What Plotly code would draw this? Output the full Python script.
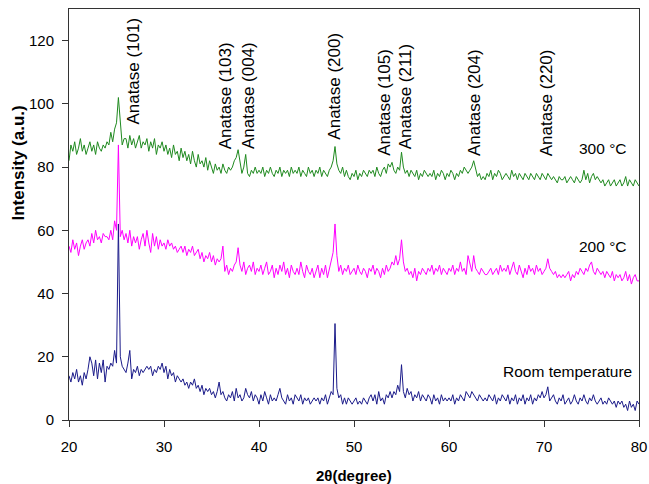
import numpy as np
import plotly.graph_objects as go

# 2-theta grid (degrees), 0.2 degree step
two_theta = np.round(np.arange(20.0, 80.0001, 0.2), 1)

room_temp = [
    14, 12, 15, 13, 16, 12, 14, 11, 15, 13,
    16, 20, 18, 14, 19, 13, 18, 15, 19, 12,
    17, 16, 18, 17, 22, 18, 62, 20, 17, 16,
    15, 18, 22, 13, 16, 15, 17, 14, 16, 15,
    16, 17, 16, 17, 14, 16, 15, 17, 16, 18,
    15, 17, 13, 16, 14, 15, 12, 14, 13, 12,
    13, 11, 12, 10, 12, 11, 13, 10, 11, 9,
    11, 8, 10, 9, 10, 8, 9, 7, 9, 12,
    8, 9, 7, 6, 8, 7, 9, 6, 10, 7,
    8, 6, 7, 10, 8, 7, 9, 6, 8, 7,
    5, 8, 6, 9, 7, 5, 8, 6, 7, 6,
    8, 10, 7, 6, 5, 8, 6, 7, 5, 8,
    7, 6, 8, 5, 7, 6, 7, 5, 6, 7,
    6, 7, 5, 7, 6, 8, 5, 7, 9, 8,
    30.5, 10, 7, 8, 5, 7, 5, 7, 6, 5,
    6, 7, 5, 6, 5, 7, 6, 5, 7, 8,
    6, 8, 5, 9, 6, 7, 5, 8, 7, 9,
    7, 9, 8, 11, 9, 17.5, 9, 7, 10, 8,
    9, 6, 8, 7, 9, 6, 8, 7, 6, 8,
    7, 5, 8, 6, 7, 5, 8, 6, 7, 6,
    7, 6, 8, 5, 7, 6, 8, 7, 6, 9,
    8, 7, 9, 8, 7, 6, 8, 7, 6, 7,
    6, 8, 7, 6, 8, 5, 7, 6, 8, 7,
    6, 8, 5, 7, 6, 8, 5, 7, 6, 8,
    5, 7, 6, 8, 5, 7, 6, 8, 7, 9,
    7, 8, 10.5, 6, 7, 8, 6, 5, 7, 6,
    8, 5, 6, 7, 5, 6, 8, 6, 5, 7,
    6, 8, 6, 5, 7, 6, 8, 6, 5, 6,
    7, 5, 6, 5, 7, 6, 5, 6, 4, 6,
    5, 6, 4, 5, 3, 6, 4, 5, 3, 6,
    5,
]

t200 = [
    55, 53, 57, 54, 56, 52, 55, 57, 54, 56,
    57, 55, 59, 56, 60, 57, 58, 56, 59, 58,
    58, 57, 60, 57, 63, 60, 87, 58, 60, 57,
    59, 56, 60, 55, 58, 56, 58, 54, 57, 59,
    55, 60, 56, 53, 59, 55, 58, 54, 57, 55,
    56, 54, 57, 55, 56, 54, 55, 53, 54, 55,
    53, 55, 52, 54, 53, 55, 52, 53, 54, 51,
    53, 50, 52, 51, 53, 50, 52, 49, 51, 50,
    51, 55, 47, 49, 46, 48, 47, 49, 50, 54.5,
    49, 47, 50, 46, 48, 49, 47, 50, 46, 48,
    47, 49, 46, 48, 50, 46, 47, 49, 45, 48,
    46, 49, 47, 50, 46, 48, 45, 49, 47, 46,
    48, 46, 50, 47, 45, 49, 47, 46, 48, 45,
    47, 49, 45, 48, 46, 49, 45, 48, 50, 53,
    62, 52, 47, 49, 46, 48, 47, 49, 46, 47,
    48, 46, 49, 47, 46, 48, 47, 45, 48, 47,
    49, 46, 48, 47, 45, 48, 46, 49, 47, 48,
    50, 49, 52, 49, 51, 57, 50, 47, 48, 46,
    47, 45, 48, 44, 47, 46, 48, 47, 46, 48,
    47, 49, 46, 48, 47, 49, 46, 48, 47, 46,
    48, 47, 49, 46, 48, 47, 50, 47, 48, 46,
    52, 49, 47, 52, 48, 47, 46, 48, 47, 46,
    46, 47, 48, 46, 47, 48, 46, 49, 47, 48,
    47, 49, 46, 48, 50, 47, 46, 49, 47, 45,
    48, 46, 49, 47, 48, 46, 49, 47, 48, 46,
    47, 48, 51, 48, 47, 46, 47, 45, 46, 45,
    46, 45, 46, 47, 44, 46, 45, 47, 46, 48,
    47, 46, 48, 47, 49, 50, 47, 46, 48, 47,
    46, 47, 45, 47, 46, 45, 47, 44, 46, 45,
    46, 44, 45, 47, 44, 46, 43, 45, 46, 44,
    44,
]

t300 = [
    82, 87, 85, 88, 84, 86, 89, 85, 87, 84,
    86, 88, 85, 87, 84, 88, 86, 85, 87, 86,
    88, 87, 91, 88, 92, 94, 102, 93, 87, 89,
    89, 86, 90, 87, 89, 86, 88, 90, 86, 88,
    87, 89, 85, 88, 86, 89, 84, 87, 86, 88,
    85, 87, 84, 86, 83, 87, 84, 85, 82, 86,
    83, 85, 82, 84, 81, 85, 82, 80, 84, 81,
    82, 80, 83, 79, 82, 80, 78, 81, 79, 80,
    78, 81, 79, 78, 80, 79, 80, 82, 83, 85.5,
    81, 78, 80, 84, 78, 77, 79, 78, 80, 78,
    79, 78, 80, 77, 79, 78, 80, 78, 77, 79,
    78, 80, 77, 79, 78, 79, 77, 80, 78, 79,
    78, 80, 77, 79, 78, 77, 80, 78, 79, 77,
    79, 78, 80, 77, 79, 78, 77, 79, 80, 82,
    86.5, 81, 79, 78, 80, 77, 79, 77, 76, 78,
    77, 79, 76, 78, 77, 79, 78, 77, 79, 78,
    79, 77, 80, 78, 77, 79, 80, 78, 81, 80,
    81.5, 79, 78, 80, 79, 84.7, 80, 78, 79, 77,
    79, 78, 77, 79, 76, 78, 77, 79, 78, 77,
    78, 77, 79, 76, 78, 77, 79, 78, 76, 78,
    77, 79, 78, 76, 78, 77, 79, 78, 80, 79,
    78, 79, 80, 82, 79, 77, 78, 76, 77, 76,
    78, 77, 79, 76, 78, 77, 79, 78, 76, 77,
    78, 77, 76, 79, 77, 78, 76, 78, 77, 76,
    78, 77, 76, 78, 77, 76, 78, 77, 76, 78,
    77, 76, 78, 77, 76, 77, 76, 75, 77, 76,
    76, 77, 75, 76, 77, 76, 75, 77, 76, 75,
    76, 79, 76, 78, 75, 77, 78, 76, 77, 76,
    75, 76, 74, 75, 76, 74, 75, 76, 74, 75,
    76, 74, 75, 77, 74, 76, 75, 74, 76, 75,
    74,
]

peak_labels = ["Anatase (101)", "Anatase (103)", "Anatase (004)", "Anatase (200)",
               "Anatase (105)", "Anatase (211)", "Anatase (204)", "Anatase (220)"]
peak_x = [26.75, 36.5, 38.9, 48.0, 53.2, 55.4, 62.7, 70.3]
peak_label_y = [93.0, 85.4, 85.4, 88.2, 83.2, 85.4, 83.2, 83.2]

series_names = ["Room temperature", "200 °C", "300 °C"]
series_label_x = [72.5, 76.2, 76.2]
series_label_y = [15.3, 54.8, 86.0]

FONT = "Liberation Sans, Arial, sans-serif"

# plot area in pixels
L, R, T, B = 69, 639, 9, 420
W, H = 649, 484

fig = go.Figure()
fig.add_trace(go.Scatter(x=two_theta, y=room_temp, mode="lines",
                         line=dict(color="#1b1b8a", width=1), name=series_names[0]))
fig.add_trace(go.Scatter(x=two_theta, y=t200, mode="lines",
                         line=dict(color="#ff00ff", width=1), name=series_names[1]))
fig.add_trace(go.Scatter(x=two_theta, y=t300, mode="lines",
                         line=dict(color="#1f8a1f", width=1), name=series_names[2]))

annotations = []
for lab, px, py in zip(peak_labels, peak_x, peak_label_y):
    annotations.append(dict(x=px, y=py, xref="x", yref="y", text=lab, showarrow=False,
                            textangle=-90, xanchor="center", yanchor="bottom",
                            borderpad=0, font=dict(family=FONT, size=17, color="black")))
for lab, px, py in zip(series_names, series_label_x, series_label_y):
    annotations.append(dict(x=px, y=py, xref="x", yref="y", text=lab, showarrow=False,
                            xanchor="center", yanchor="middle", borderpad=0,
                            font=dict(family=FONT, size=15.5, color="black")))
# axis titles (placed in pixel positions converted to paper coords)
annotations.append(dict(x=(18 - L) / (R - L), y=(B - 163.5) / (B - T), xref="paper", yref="paper",
                        text="<b>Intensity (a.u.)</b>", showarrow=False, textangle=-90,
                        xanchor="center", yanchor="middle", borderpad=0,
                        font=dict(family=FONT, size=17, color="black")))
annotations.append(dict(x=(354 - L) / (R - L), y=(B - 475) / (B - T), xref="paper", yref="paper",
                        text="<b>2θ(degree)</b>", showarrow=False,
                        xanchor="center", yanchor="middle", borderpad=0,
                        font=dict(family=FONT, size=15, color="black")))

fig.update_layout(
    width=W, height=H, autosize=False,
    margin=dict(l=L, r=W - R, t=T, b=H - B, pad=0, autoexpand=False),
    plot_bgcolor="white", paper_bgcolor="white",
    showlegend=False,
    font=dict(family=FONT, size=15, color="black"),
    annotations=annotations,
)

fig.update_xaxes(range=[20, 80], tickvals=[20, 30, 40, 50, 60, 70, 80], automargin=False,
                 showgrid=False, zeroline=False, showline=True, linecolor="#333333",
                 linewidth=1, mirror=True, ticks="outside", ticklen=6, tickcolor="#333333",
                 ticklabelstandoff=7, tickfont=dict(family=FONT, size=15))
fig.update_yaxes(range=[0, 130], tickvals=[0, 20, 40, 60, 80, 100, 120], automargin=False,
                 showgrid=False, zeroline=False, showline=True, linecolor="#333333",
                 linewidth=1, mirror=True, ticks="outside", ticklen=6, tickcolor="#333333",
                 ticklabelstandoff=5, tickfont=dict(family=FONT, size=15))

fig.write_html("out.html")
